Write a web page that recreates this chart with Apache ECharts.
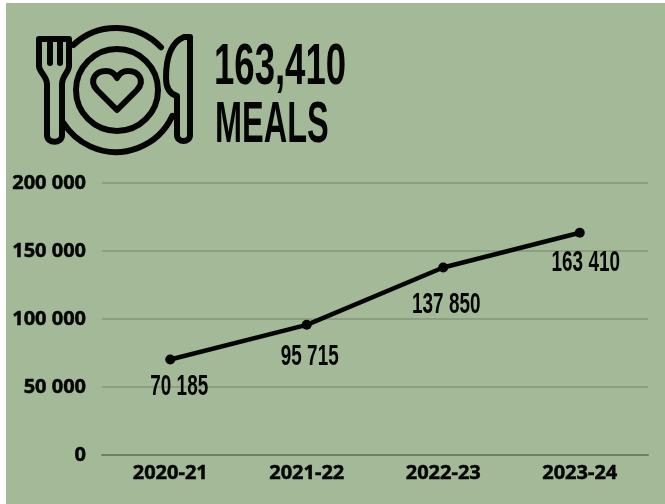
<!DOCTYPE html>
<html>
<head>
<meta charset="utf-8">
<style>
  html, body { margin: 0; padding: 0; background: #fff; }
  #chart { position: absolute; left: 0; top: 0; width: 665px; height: 504px; }
</style>
</head>
<body>
<div id="chart"></div>
<script src="https://cdn.jsdelivr.net/npm/echarts@6/dist/echarts.min.js"></script>
<script>
const years = ['2020-21', '2021-22', '2022-23', '2023-24']
const meals = [70185, 95715, 137850, 163410]
const valueLabels = ['70 185', '95 715', '137 850', '163 410']
const headline = ['163,410', 'MEALS']

// labels were hand placed in the original, so each one has its own nudge
const labelNudge = [[9, 15], [3, 20], [3, 25], [6, 18]]

const ink = '#050505'
const condensed = '"Liberation Sans", sans-serif'
const heavy = '"Open Sans", sans-serif'

const reg = (name, d) => echarts.graphic.registerShape(name, echarts.graphic.extendPath(d, {}))
reg('heart', 'M117 110 L97 90 C88 80 96 71 106 71 C111 71 115 74 117 78 C119 74 123 71 128 71 C138 71 146 80 137 90 Z')
reg('fork', 'M39 39 H69 V66 C69 72 62 76 62 84 V135 C62 144 47 144 47 135 V84 C47 76 39 72 39 66 Z M50 39 V63 M60 39 V63')
reg('knife', 'M190 37 V135 C190 143 177 143 177 135 V96 C170 94 166 88 166 78 C166 56 172 42 184 37 Z')

const chart = echarts.init(document.getElementById('chart'))
const line = { stroke: ink, lineWidth: 6, fill: 'none', lineJoin: 'round', lineCap: 'round' }
const tickText = { color: ink, fontFamily: heavy, fontWeight: 700, fontSize: 20, textBorderColor: ink, textBorderWidth: 0.5 }

chart.setOption({
  animation: false,
  backgroundColor: '#fff',
  grid: { left: 102, right: 17, top: 183, bottom: 49 },
  xAxis: {
    type: 'category',
    data: years,
    axisLine: { lineStyle: { color: '#6f7f66', width: 2 } },
    axisTick: { show: false },
    axisLabel: { ...tickText, margin: 8 }
  },
  yAxis: {
    type: 'value',
    min: 0,
    max: 200000,
    interval: 50000,
    axisLine: { show: false },
    axisTick: { show: false },
    splitLine: { lineStyle: { color: '#84977a', width: 1.5 } },
    axisLabel: {
      ...tickText,
      margin: 16,
      formatter: v => String(v).replace(/\B(?=(\d{3})+$)/g, ' ')
    }
  },
  series: [
    {
      type: 'line',
      data: meals,
      symbol: 'circle',
      symbolSize: 10,
      lineStyle: { color: ink, width: 4.5 },
      itemStyle: { color: ink },
      z: 5
    },
    {
      // value labels, squeezed with scaleX since no condensed font is installed
      type: 'custom',
      data: meals.map((v, i) => [i, v]),
      z: 6,
      renderItem: (params, api) => {
        const p = api.coord([api.value(0), api.value(1)])
        const nudge = labelNudge[params.dataIndex]
        return {
          type: 'text',
          x: p[0] + nudge[0],
          y: p[1] + nudge[1] - 3,
          scaleX: 0.63,
          style: {
            text: valueLabels[params.dataIndex],
            textAlign: 'center',
            textVerticalAlign: 'top',
            fill: ink,
            font: '700 30px ' + condensed
          }
        }
      }
    }
  ],
  graphic: [
    { type: 'rect', z: -10, shape: { x: 6, y: 3, width: 659, height: 501 }, style: { fill: '#a3b998' } },
    { type: 'text', x: 214, y: 39, scaleX: 0.63, style: { text: headline[0], fill: ink, font: '700 58px ' + condensed } },
    { type: 'text', x: 215, y: 97, scaleX: 0.56, style: { text: headline[1], fill: ink, font: '700 58px ' + condensed } },
    // plate
    { type: 'arc', shape: { cx: 116, cy: 90, r: 62, startAngle: -2.33, endAngle: -0.76 }, style: line },
    { type: 'arc', shape: { cx: 116, cy: 90, r: 62, startAngle: 0.43, endAngle: 2.58 }, style: line },
    { type: 'circle', shape: { cx: 117, cy: 90, r: 41 }, style: line },
    { type: 'heart', style: line },
    { type: 'fork', style: line },
    { type: 'knife', style: line }
  ]
})
</script>
</body>
</html>
